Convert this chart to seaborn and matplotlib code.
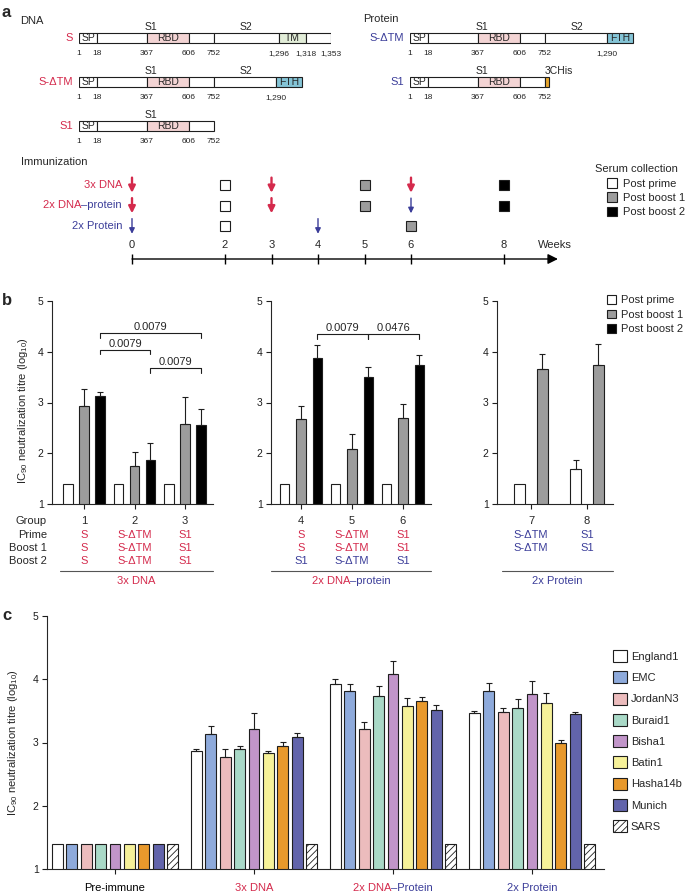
import matplotlib
matplotlib.use("Agg")
import matplotlib.pyplot as plt
import matplotlib.transforms as mtransforms
from matplotlib.patches import Patch, Rectangle
import numpy as np
import pandas as pd
import seaborn as sns

W, H = 685, 894  # output size in pixels at dpi 100

RED = "#d42a4c"
BLUE = "#3b3d99"
GREY = "#9c9c9c"
EDGE = "#1e1e1e"

# ---------------- panel a: constructs ----------------
DNA_CONSTRUCTS = ["S", "S-ΔTM", "S1"]
PROTEIN_CONSTRUCTS = ["S-ΔTM", "S1"]
S_SEGMENTS = [(1, 18, "SP"), (18, 367, ""), (367, 606, "RBD"), (606, 752, ""),
              (752, 1296, ""), (1296, 1318, "TM"), (1318, 1353, "")]
S_DTM_SEGMENTS = [(1, 18, "SP"), (18, 367, ""), (367, 606, "RBD"), (606, 752, ""),
                  (752, 1290, ""), (1290, 1315, "FTH")]
S1_SEGMENTS = [(1, 18, "SP"), (18, 367, ""), (367, 606, "RBD"), (606, 752, "")]
S1_HIS_SEGMENTS = S1_SEGMENTS + [(752, 787, "3CHis")]
S_RESIDUES = [1, 18, 367, 606, 752, 1296, 1318, 1353]
S_DTM_RESIDUES = [1, 18, 367, 606, 752, 1290]
S1_RESIDUES = [1, 18, 367, 606, 752]
SEG_COLOURS = {"": "white", "SP": "white", "RBD": "#f3d4d4", "TM": "#e2edd8",
               "FTH": "#84c4d6", "3CHis": "#e6a52b"}

# schematic (not to scale) residue axis
RES_KNOTS = [1, 18, 367, 606, 752, 1290, 1296, 1318, 1353]
DRAW_KNOTS = [0, 18, 68, 110, 135, 197, 200, 227, 252]

# ---------------- panel a: schedule ----------------
SCHEDULES = ["3x DNA", "2x DNA–protein", "2x Protein"]
IMMUNIZATION_WEEKS = [[0, 3, 6], [0, 3, 6], [0, 4]]
IMMUNIZATION_KIND = [["DNA", "DNA", "DNA"], ["DNA", "DNA", "protein"], ["protein", "protein"]]
COLLECTION_WEEKS = [[2, 5, 8], [2, 5, 8], [2, 6]]
COLLECTION_STAGE = [["Post prime", "Post boost 1", "Post boost 2"],
                    ["Post prime", "Post boost 1", "Post boost 2"],
                    ["Post prime", "Post boost 1"]]
WEEK_TICKS = [0, 2, 3, 4, 5, 6, 8]

# ---------------- panel b ----------------
STAGES = ["Post prime", "Post boost 1", "Post boost 2"]
STAGE_COLOURS = {"Post prime": "white", "Post boost 1": GREY, "Post boost 2": "black"}

DNA_GROUPS = ["1", "2", "3"]
DNA_PRIME = [1.40, 1.40, 1.40]
DNA_BOOST1 = [2.93, 1.75, 2.57]
DNA_BOOST2 = [3.12, 1.87, 2.55]
DNA_PRIME_ERR = [0, 0, 0]
DNA_BOOST1_ERR = [0.33, 0.28, 0.54]
DNA_BOOST2_ERR = [0.08, 0.33, 0.33]
DNA_PRIME_VAX = ["S", "S-ΔTM", "S1"]
DNA_BOOST1_VAX = ["S", "S-ΔTM", "S1"]
DNA_BOOST2_VAX = ["S", "S-ΔTM", "S1"]
DNA_PVALUES = [("1", "3", "0.0079"), ("1", "2", "0.0079"), ("2", "3", "0.0079")]
DNA_BRACKET_LEVELS = [4.36, 4.03, 3.67]

MIX_GROUPS = ["4", "5", "6"]
MIX_PRIME = [1.40, 1.40, 1.40]
MIX_BOOST1 = [2.67, 2.09, 2.70]
MIX_BOOST2 = [3.87, 3.50, 3.73]
MIX_PRIME_ERR = [0, 0, 0]
MIX_BOOST1_ERR = [0.27, 0.29, 0.27]
MIX_BOOST2_ERR = [0.26, 0.20, 0.21]
MIX_PRIME_VAX = ["S", "S-ΔTM", "S1"]
MIX_BOOST1_VAX = ["S", "S-ΔTM", "S1"]
MIX_BOOST2_VAX = ["S1", "S-ΔTM", "S1"]
MIX_PVALUES = [("4", "5", "0.0079"), ("5", "6", "0.0476")]
MIX_BRACKET_LEVELS = [4.34, 4.34]

PROT_GROUPS = ["7", "8"]
PROT_PRIME = [1.40, 1.68]
PROT_BOOST1 = [3.66, 3.73]
PROT_PRIME_ERR = [0, 0.19]
PROT_BOOST1_ERR = [0.29, 0.42]
PROT_PRIME_VAX = ["S-ΔTM", "S1"]
PROT_BOOST1_VAX = ["S-ΔTM", "S1"]

# ---------------- panel c ----------------
STRAINS = ["England1", "EMC", "JordanN3", "Buraid1", "Bisha1", "Batin1",
           "Hasha14b", "Munich", "SARS"]
STRAIN_COLOURS = ["white", "#8eaadb", "#ecbcbd", "#a9d9c7", "#c195c9", "#f6f199",
                  "#e8992c", "#6264ab", "white"]
SERA = ["Pre-immune", "3x DNA", "2x DNA–Protein", "2x Protein"]
PRE_TITRE = [1.40, 1.40, 1.40, 1.40, 1.40, 1.40, 1.40, 1.40, 1.40]
PRE_ERR = [0, 0, 0, 0, 0, 0, 0, 0, 0]
DNA3_TITRE = [2.87, 3.14, 2.77, 2.90, 3.21, 2.83, 2.95, 3.08, 1.40]
DNA3_ERR = [0.035, 0.12, 0.12, 0.045, 0.26, 0.04, 0.06, 0.07, 0]
MIXED_TITRE = [3.92, 3.82, 3.22, 3.74, 4.08, 3.57, 3.66, 3.51, 1.40]
MIXED_ERR = [0.08, 0.11, 0.10, 0.16, 0.21, 0.14, 0.06, 0.09, 0]
PROTEIN_TITRE = [3.47, 3.82, 3.48, 3.54, 3.77, 3.63, 3.00, 3.45, 1.40]
PROTEIN_ERR = [0.03, 0.12, 0.06, 0.15, 0.20, 0.15, 0.04, 0.03, 0]

YLABEL = "IC$_{90}$ neutralization titre (log$_{10}$)"


def px_axes(fig, box):
    left, top, right, bottom = box
    return fig.add_axes([left / W, 1 - bottom / H, (right - left) / W, (bottom - top) / H])


def fx(box, px):
    return (px - box[0]) / (box[2] - box[0])


def fy(box, py):
    return (box[3] - py) / (box[3] - box[1])


def two_tone(ax, x, y, parts, ha="center", transform=None, **kw):
    # place coloured pieces of one label side by side
    full = "".join(t for t, _ in parts)
    anchor = ax.text(x, y, full, ha=ha, va="center", alpha=0,
                     transform=transform if transform is not None else ax.transData, **kw)
    prev, xy = anchor, (0, 0)
    for text, colour in parts:
        prev = ax.annotate(text, xy=xy, xycoords=prev, ha="left", va="bottom",
                           color=colour, **kw)
        xy = (1, 0)


sns.set_style("ticks")
plt.rcParams["font.family"] = ["Liberation Sans", "DejaVu Sans"]
plt.rcParams["mathtext.default"] = "regular"
plt.rcParams["hatch.linewidth"] = 0.6
plt.rcParams["axes.linewidth"] = 0.8

fig = plt.figure(figsize=(W / 100, H / 100), dpi=100)
fig.patch.set_facecolor("white")

# ======================= panel a =======================
for lab, top in [("a", 5), ("b", 293), ("c", 608)]:
    fig.text(2 / W, 1 - top / H, lab, fontsize=12, weight="bold", va="top", ha="left")

fig.text(20 / W, 1 - 21 / H, "DNA", fontsize=8, va="center")
fig.text(363 / W, 1 - 19 / H, "Protein", fontsize=8, va="center")

ROW_TOP, ROW_BOTTOM, ROW0, ROW_STEP = 20, 145, 38, 44
BOX_H = 0.24


def schematic_axes(box):
    ax = px_axes(fig, box)
    ax.set_xscale("function", functions=(lambda x: np.interp(x, RES_KNOTS, DRAW_KNOTS),
                                         lambda x: np.interp(x, DRAW_KNOTS, RES_KNOTS)))
    ax.set_xlim(1, 1353)
    ax.set_ylim((ROW_BOTTOM - ROW0) / ROW_STEP, (ROW_TOP - ROW0) / ROW_STEP)
    ax.axis("off")
    return ax


def draw_construct(ax, row, name, colour, segments, residues, domains):
    for start, end, label in segments:
        ax.add_patch(Rectangle((start, row - BOX_H / 2), end - start, BOX_H,
                               facecolor=SEG_COLOURS[label], edgecolor=EDGE, lw=0.8))
        if label in ("SP", "RBD", "TM", "FTH"):
            mid = np.interp((np.interp(start, RES_KNOTS, DRAW_KNOTS)
                             + np.interp(end, RES_KNOTS, DRAW_KNOTS)) / 2,
                            DRAW_KNOTS, RES_KNOTS)
            ax.text(mid, row + 0.01, label, ha="center", va="center", fontsize=7.5)
        elif label == "3CHis":
            ax.text(start, row - 0.26, label, ha="left", va="center", fontsize=7.5)
    for res in residues:
        ax.text(res, row + 0.35, f"{res:,}", ha="center", va="center", fontsize=6)
    for dom, res in domains:
        ax.text(res, row - 0.26, dom, ha="center", va="center", fontsize=7.5)
    trans = mtransforms.offset_copy(
        mtransforms.blended_transform_factory(ax.transAxes, ax.transData),
        fig=fig, x=-6, units="dots")
    ax.text(0, row, name, transform=trans, ha="right", va="center", fontsize=8, color=colour)


ax_dna = schematic_axes((79, ROW_TOP, 331, ROW_BOTTOM))
both = [("S1", 390), ("S2", 1030)]
dna_specs = [(S_SEGMENTS, S_RESIDUES, both), (S_DTM_SEGMENTS, S_DTM_RESIDUES, both),
             (S1_SEGMENTS, S1_RESIDUES, [("S1", 390)])]
for row, (name, (segs, res, doms)) in enumerate(zip(DNA_CONSTRUCTS, dna_specs)):
    draw_construct(ax_dna, row, name, RED, segs, res, doms)

ax_prot = schematic_axes((410, ROW_TOP, 662, ROW_BOTTOM))
prot_specs = [(S_DTM_SEGMENTS, S_DTM_RESIDUES, both),
              (S1_HIS_SEGMENTS, S1_RESIDUES, [("S1", 390)])]
for row, (name, (segs, res, doms)) in enumerate(zip(PROTEIN_CONSTRUCTS, prot_specs)):
    draw_construct(ax_prot, row, name, BLUE, segs, res, doms)

# immunization schedule
WEEK0, WEEK_STEP, SROW0, SROW_STEP = 132, 46.5, 185, 20.5
ax_t = px_axes(fig, (0, 150, 685, 275))
ax_t.set_xlim(-WEEK0 / WEEK_STEP, (W - WEEK0) / WEEK_STEP)
ax_t.set_ylim((275 - SROW0) / SROW_STEP, (150 - SROW0) / SROW_STEP)
ax_t.axis("off")
fig.text(21 / W, 1 - 162 / H, "Immunization", fontsize=8, va="center")

axis_row = (259 - SROW0) / SROW_STEP
ax_t.annotate("", xy=(9.16, axis_row), xytext=(0, axis_row),
              arrowprops=dict(arrowstyle="-|>", lw=1.0, color="black", mutation_scale=15,
                              shrinkA=0, shrinkB=0))
ax_t.vlines(WEEK_TICKS, axis_row - 0.22, axis_row + 0.22, color="black", lw=1.0)
for w in WEEK_TICKS:
    ax_t.text(w, (245 - SROW0) / SROW_STEP, str(w), ha="center", va="center", fontsize=8)
ax_t.text(9.1, (245 - SROW0) / SROW_STEP, "Weeks", ha="center", va="center", fontsize=8)

for row, (weeks, kinds) in enumerate(zip(IMMUNIZATION_WEEKS, IMMUNIZATION_KIND)):
    for w, kind in zip(weeks, kinds):
        dna = kind == "DNA"
        ax_t.annotate("", xy=(w, row + 0.38), xytext=(w, row - 0.36),
                      arrowprops=dict(arrowstyle="-|>", color=RED if dna else BLUE,
                                      lw=1.7 if dna else 1.0,
                                      mutation_scale=10 if dna else 8,
                                      shrinkA=0, shrinkB=0))
for row, (weeks, stages) in enumerate(zip(COLLECTION_WEEKS, COLLECTION_STAGE)):
    for w, st in zip(weeks, stages):
        ax_t.plot(w, row, marker="s", ms=7.5, mfc=STAGE_COLOURS[st], mec=EDGE, mew=0.8,
                  ls="none")

lab_x = -10 / WEEK_STEP
ax_t.text(lab_x, 0, SCHEDULES[0], ha="right", va="center", fontsize=8, color=RED)
two_tone(ax_t, lab_x, 1, [("2x DNA", RED), ("–protein", BLUE)], ha="right", fontsize=8)
ax_t.text(lab_x, 2, SCHEDULES[2], ha="right", va="center", fontsize=8, color=BLUE)

fig.text(595 / W, 1 - 169 / H, "Serum collection", fontsize=8, va="center")
stage_handles = [Patch(facecolor=STAGE_COLOURS[s], edgecolor=EDGE, lw=0.8) for s in STAGES]
fig.legend(stage_handles, STAGES, loc="upper left", bbox_to_anchor=(607 / W, 1 - 178 / H),
           frameon=False, fontsize=8, handlelength=0.9, handleheight=0.95,
           handletextpad=0.5, labelspacing=0.33, borderpad=0, borderaxespad=0)

# ======================= panel b =======================
B_DNA = (52, 301, 213, 504)
B_MIX = (271, 301, 431, 504)
B_PROT = (497, 301, 613, 504)
TABLE_ROWS_PX = [521, 534.5, 548, 561]


def style_axis(ax, xlim, n):
    ax.set_xlim(*xlim)
    ax.set_ylim(1, 5)
    ax.set_yticks([1, 2, 3, 4, 5])
    ax.set_xticks(range(n))
    ax.set_xticklabels([])
    ax.set_xlabel("")
    ax.set_ylabel("")
    sns.despine(ax=ax)
    ax.tick_params(length=3.5, width=0.8, labelsize=7.5, colors=EDGE, pad=2.5)


def titre_panel(ax, groups, stages, values, errors, width, gap, xlim):
    rows = []
    for stage, vals, errs in zip(stages, values, errors):
        for g, v, e in zip(groups, vals, errs):
            rows.append(dict(group=g, stage=stage, titre=v, err=e))
    df = pd.DataFrame(rows)
    sns.barplot(data=df, x="group", y="titre", hue="stage", order=groups, hue_order=stages,
                palette=STAGE_COLOURS, width=width, gap=gap, saturation=1, errorbar=None,
                edgecolor=EDGE, linewidth=0.8, legend=False, ax=ax)
    centres = {}
    for stage, cont in zip(stages, ax.containers):
        sub = df[df["stage"] == stage]
        for bar, (_, r) in zip(cont, sub.iterrows()):
            x = bar.get_x() + bar.get_width() / 2
            centres[(r["group"], stage)] = x
            if r["err"] > 0:
                ax.errorbar(x, r["titre"], yerr=[[0], [r["err"]]], fmt="none", ecolor=EDGE,
                            elinewidth=0.8, capsize=2.5, capthick=0.8)
    style_axis(ax, xlim, len(groups))
    return centres


def brackets(ax, centres, pvalues, levels):
    for (g1, g2, p), y in zip(pvalues, levels):
        x1, x2 = centres[(g1, "Post boost 2")], centres[(g2, "Post boost 2")]
        ax.plot([x1, x1, x2, x2], [y - 0.08, y, y, y - 0.08], color=EDGE, lw=0.8)
        ax.text((x1 + x2) / 2, y + 0.02, p, ha="center", va="bottom", fontsize=8)


def regimen_table(ax, box, groups, rows, under_from, title_parts, headers=False):
    trans = mtransforms.blended_transform_factory(ax.transData, ax.transAxes)
    ys = [fy(box, p) for p in TABLE_ROWS_PX]
    for i, g in enumerate(groups):
        ax.text(i, ys[0], g, transform=trans, ha="center", va="center", fontsize=8)
    for y, (names, colour) in zip(ys[1:], rows):
        for i, name in enumerate(names):
            ax.text(i, y, name, transform=trans, ha="center", va="center", fontsize=8,
                    color=colour)
    if headers:
        for y, h in zip(ys, ["Group", "Prime", "Boost 1", "Boost 2"]):
            ax.text(fx(box, 47), y, h, transform=ax.transAxes, ha="right", va="center",
                    fontsize=8)
    x0 = fx(box, under_from)
    ax.plot([x0, 1.0], [fy(box, 571)] * 2, transform=ax.transAxes, clip_on=False,
            color="#555555", lw=0.8)
    two_tone(ax, (x0 + 1.0) / 2, fy(box, 581), title_parts, transform=ax.transAxes,
             fontsize=8)


ax_b1 = px_axes(fig, B_DNA)
c1 = titre_panel(ax_b1, DNA_GROUPS, STAGES, [DNA_PRIME, DNA_BOOST1, DNA_BOOST2],
                 [DNA_PRIME_ERR, DNA_BOOST1_ERR, DNA_BOOST2_ERR], 0.95, 0.41,
                 ((52 - 84) / 50.5, (213 - 84) / 50.5))
brackets(ax_b1, c1, DNA_PVALUES, DNA_BRACKET_LEVELS)
regimen_table(ax_b1, B_DNA, DNA_GROUPS,
              [(DNA_PRIME_VAX, RED), (DNA_BOOST1_VAX, RED), (DNA_BOOST2_VAX, RED)],
              60, [("3x DNA", RED)], headers=True)
ax_b1.text(fx(B_DNA, 23), fy(B_DNA, 411), YLABEL, transform=ax_b1.transAxes, rotation=90,
           ha="center", va="center", fontsize=8)

ax_b2 = px_axes(fig, B_MIX)
c2 = titre_panel(ax_b2, MIX_GROUPS, STAGES, [MIX_PRIME, MIX_BOOST1, MIX_BOOST2],
                 [MIX_PRIME_ERR, MIX_BOOST1_ERR, MIX_BOOST2_ERR], 0.95, 0.43,
                 ((271 - 301) / 51, (431 - 301) / 51))
brackets(ax_b2, c2, MIX_PVALUES, MIX_BRACKET_LEVELS)
regimen_table(ax_b2, B_MIX, MIX_GROUPS,
              [(MIX_PRIME_VAX, RED), (MIX_BOOST1_VAX, RED), (MIX_BOOST2_VAX, BLUE)],
              271, [("2x DNA", RED), ("–protein", BLUE)])

ax_b3 = px_axes(fig, B_PROT)
titre_panel(ax_b3, PROT_GROUPS, STAGES[:2], [PROT_PRIME, PROT_BOOST1],
            [PROT_PRIME_ERR, PROT_BOOST1_ERR], 0.82, 0.56,
            ((497 - 531) / 56, (613 - 531) / 56))
regimen_table(ax_b3, B_PROT, PROT_GROUPS,
              [(PROT_PRIME_VAX, BLUE), (PROT_BOOST1_VAX, BLUE)],
              502, [("2x Protein", BLUE)])

fig.legend(stage_handles, STAGES, loc="upper left", bbox_to_anchor=(607 / W, 1 - 295 / H),
           frameon=False, fontsize=8, handlelength=0.8, handleheight=0.85,
           handletextpad=0.5, labelspacing=0.38, borderpad=0, borderaxespad=0)

# ======================= panel c =======================
C_BOX = (47, 616, 604, 869)
ax_c = px_axes(fig, C_BOX)
rows = []
for serum, vals, errs in zip(SERA, [PRE_TITRE, DNA3_TITRE, MIXED_TITRE, PROTEIN_TITRE],
                             [PRE_ERR, DNA3_ERR, MIXED_ERR, PROTEIN_ERR]):
    for strain, v, e in zip(STRAINS, vals, errs):
        rows.append(dict(serum=serum, strain=strain, titre=v, err=e))
dfc = pd.DataFrame(rows)
strain_palette = dict(zip(STRAINS, STRAIN_COLOURS))
sns.barplot(data=dfc, x="serum", y="titre", hue="strain", order=SERA, hue_order=STRAINS,
            palette=strain_palette, width=0.932, gap=0.26, saturation=1, errorbar=None,
            edgecolor=EDGE, linewidth=0.8, legend=False, ax=ax_c)
for strain, cont in zip(STRAINS, ax_c.containers):
    sub = dfc[dfc["strain"] == strain]
    for bar, (_, r) in zip(cont, sub.iterrows()):
        if strain == "SARS":
            bar.set_hatch("/////")
        if r["err"] > 0:
            ax_c.errorbar(bar.get_x() + bar.get_width() / 2, r["titre"],
                          yerr=[[0], [r["err"]]], fmt="none", ecolor=EDGE,
                          elinewidth=0.8, capsize=2.5, capthick=0.8)
style_axis(ax_c, ((47 - 115) / 139, (604 - 115) / 139), len(SERA))
ax_c.text(fx(C_BOX, 13), 0.5, YLABEL, transform=ax_c.transAxes, rotation=90,
          ha="center", va="center", fontsize=8)

sera_parts = [[("Pre-immune", "black")], [("3x DNA", RED)],
              [("2x DNA", RED), ("–Protein", BLUE)], [("2x Protein", BLUE)]]
ctrans = mtransforms.blended_transform_factory(ax_c.transData, ax_c.transAxes)
for i, parts in enumerate(sera_parts):
    two_tone(ax_c, i, fy(C_BOX, 888), parts, transform=ctrans, fontsize=8)

strain_handles = [Patch(facecolor=c, edgecolor=EDGE, lw=0.8,
                        hatch="/////" if s == "SARS" else None)
                  for s, c in zip(STRAINS, STRAIN_COLOURS)]
fig.legend(strain_handles, STRAINS, loc="upper left", bbox_to_anchor=(613 / W, 1 - 650 / H),
           frameon=False, fontsize=8, handlelength=1.26, handleheight=1.29,
           handletextpad=0.35, labelspacing=0.83, borderpad=0, borderaxespad=0)

fig.savefig("out.png", dpi=100, facecolor="white")
